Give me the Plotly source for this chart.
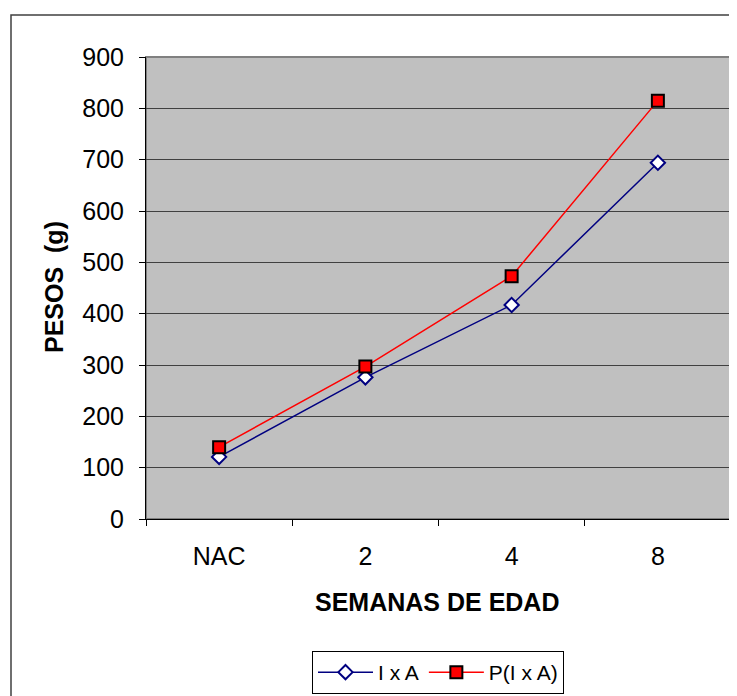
import plotly.graph_objects as go

# data
semanas = ["NAC", "2", "4", "8"]
pesos_ixa = [121, 276, 417, 694]
pesos_pixa = [140, 297, 473, 815]
y_ticks = [0, 100, 200, 300, 400, 500, 600, 700, 800, 900]

# page is 737 x 696, the figure div sits 8px in from the top-left corner
OFF = 8
W, H = 737 - OFF, 696 - OFF
# plot area in page pixels
L, R, T, B = 146, 731, 57, 519


def px_x(px: float) -> float:
    """page pixel x -> paper x"""
    return (px - L) / (R - L)


def px_y(py: float) -> float:
    """page pixel y -> paper y"""
    return (B - py) / (B - T)


fig = go.Figure()

fig.add_trace(go.Scatter(
    x=semanas, y=pesos_ixa, name="I x A", mode="lines+markers",
    line={'color': '#000080', 'width': 1.5},
    marker=dict(symbol="diamond", size=11, color="white",
                line=dict(color="#000080", width=2)),
))
fig.add_trace(go.Scatter(
    x=semanas, y=pesos_pixa, name="P(I x A)", mode="lines+markers",
    line={'color': '#FF0000', 'width': 1.5},
    marker=dict(symbol="square", size=12, color="#FF0000",
                line=dict(color="black", width=2)),
))

font = dict(family="Arial, Liberation Sans, sans-serif", color="black")

fig.update_layout(
    width=W, height=H,
    margin=dict(l=L - OFF, r=737 - R, t=T - OFF, b=696 - B, pad=0,
                autoexpand=False),
    paper_bgcolor="white",
    plot_bgcolor="#C0C0C0",
    font=font,
    showlegend=True,
    legend=dict(
        orientation="h", x=px_x(438), y=px_y(651),
        xanchor="center", yanchor="top",
        bgcolor="white", bordercolor="black", borderwidth=1,
        font=dict(size=21, **font),
        itemwidth=55,
    ),
    xaxis=dict(
        type="category", range=[-0.5, 3.5],
        tickson="boundaries", ticks="outside", ticklen=6, tickcolor="black",
        showgrid=False, showline=True, linecolor="black", linewidth=1,
        tickfont=dict(size=25, **font), ticklabelstandoff=15,
        zeroline=False,
    ),
    yaxis=dict(
        range=[0, 900], tickvals=y_ticks,
        ticks="outside", ticklen=6, tickcolor="black",
        showgrid=True, gridcolor="#404040", gridwidth=1,
        showline=True, linecolor="black", linewidth=1,
        tickfont=dict(size=25, **font), ticklabelstandoff=10,
        zeroline=False,
    ),
)

# plot area border (grey top/right)
fig.add_shape(type="rect", xref="paper", yref="paper", x0=0, y0=0, x1=1, y1=1,
              line=dict(color="#808080", width=2), layer="below")
# outer chart border
fig.add_shape(type="rect", xref="paper", yref="paper",
              x0=px_x(11), y0=px_y(760), x1=px_x(800), y1=px_y(15),
              line=dict(color="#404040", width=1.5), layer="below")

# axis titles
fig.add_annotation(x=px_x(437), y=px_y(602), xref="paper", yref="paper",
                   xanchor="center", yanchor="middle",
                   text="<b>SEMANAS DE EDAD</b>", showarrow=False,
                   font=dict(size=25, **font))
fig.add_annotation(x=px_x(54), y=px_y(287), xref="paper", yref="paper",
                   xanchor="center", yanchor="middle",
                   text="<b>PESOS  (g)</b>", showarrow=False, textangle=-90,
                   font=dict(size=25, **font))

fig.write_html("out.html")
